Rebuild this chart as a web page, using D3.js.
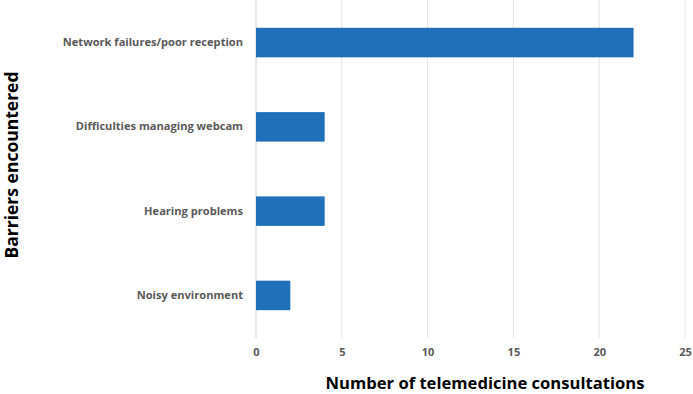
<!DOCTYPE html>
<html>
<head>
<meta charset="utf-8">
<script src="https://cdn.jsdelivr.net/npm/d3@7"></script>
<style>
  body { margin: 0; background: #fff; }
  svg { display: block; }
</style>
</head>
<body>
<div id="chart"></div>
<script>
var categories = ["Network failures/poor reception", "Difficulties managing webcam", "Hearing problems", "Noisy environment"];
var values = [22, 4, 4, 2];
var xTicks = [0, 5, 10, 15, 20, 25];

var w = 693, h = 394;
var margin = { top: 0, right: 8, bottom: 56, left: 256 };

var svg = d3.select("#chart")
    .append("svg")
    .attr("width", w)
    .attr("height", h);

var x = d3.scaleLinear()
    .domain([0, 25])
    .range([margin.left, w - margin.right]);

var y = d3.scaleBand()
    .domain(categories)
    .range([margin.top, h - margin.bottom])
    .paddingInner(0.65)
    .paddingOuter(0.33);

// gridlines
svg.selectAll(".grid")
    .data(xTicks)
    .enter()
    .append("line")
    .attr("class", "grid")
    .attr("x1", function(d) { return x(d); })
    .attr("x2", function(d) { return x(d); })
    .attr("y1", margin.top)
    .attr("y2", h - margin.bottom)
    .attr("stroke", function(d) { return d === 0 ? "#d0d0d0" : "#e3e3e3"; })
    .attr("stroke-width", 1);

// bars
svg.selectAll(".bar")
    .data(values)
    .enter()
    .append("rect")
    .attr("class", "bar")
    .attr("x", x(0))
    .attr("y", function(d, i) { return y(categories[i]); })
    .attr("width", function(d) { return x(d) - x(0); })
    .attr("height", y.bandwidth())
    .attr("fill", "#1f70b8");

// category labels
var yAxis = d3.axisLeft(y).tickSize(0).tickPadding(13);
svg.append("g")
    .attr("transform", "translate(" + margin.left + ",0)")
    .call(yAxis)
    .call(function(g) { g.select(".domain").remove(); })
    .selectAll("text")
    .attr("fill", "#595959")
    .style("font-family", "'Open Sans', sans-serif")
    .style("font-size", "11.1px")
    .style("font-weight", "bold");

// x tick labels
var xAxis = d3.axisBottom(x).tickValues(xTicks).tickSize(0).tickPadding(10);
svg.append("g")
    .attr("transform", "translate(0," + (h - margin.bottom) + ")")
    .call(xAxis)
    .call(function(g) { g.select(".domain").remove(); })
    .selectAll("text")
    .attr("fill", "#595959")
    .style("font-family", "'Open Sans', sans-serif")
    .style("font-size", "11px")
    .style("font-weight", "bold");

// axis titles
svg.append("text")
    .attr("x", 485)
    .attr("y", 389)
    .attr("text-anchor", "middle")
    .style("font-family", "'Open Sans', sans-serif")
    .style("font-size", "16.6px")
    .style("font-weight", "bold")
    .attr("fill", "#000")
    .text("Number of telemedicine consultations");

svg.append("text")
    .attr("transform", "translate(18,165) rotate(-90)")
    .attr("text-anchor", "middle")
    .style("font-family", "'Open Sans', sans-serif")
    .style("font-size", "17.5px")
    .style("font-weight", "bold")
    .attr("fill", "#000")
    .text("Barriers encountered");
</script>
</body>
</html>
